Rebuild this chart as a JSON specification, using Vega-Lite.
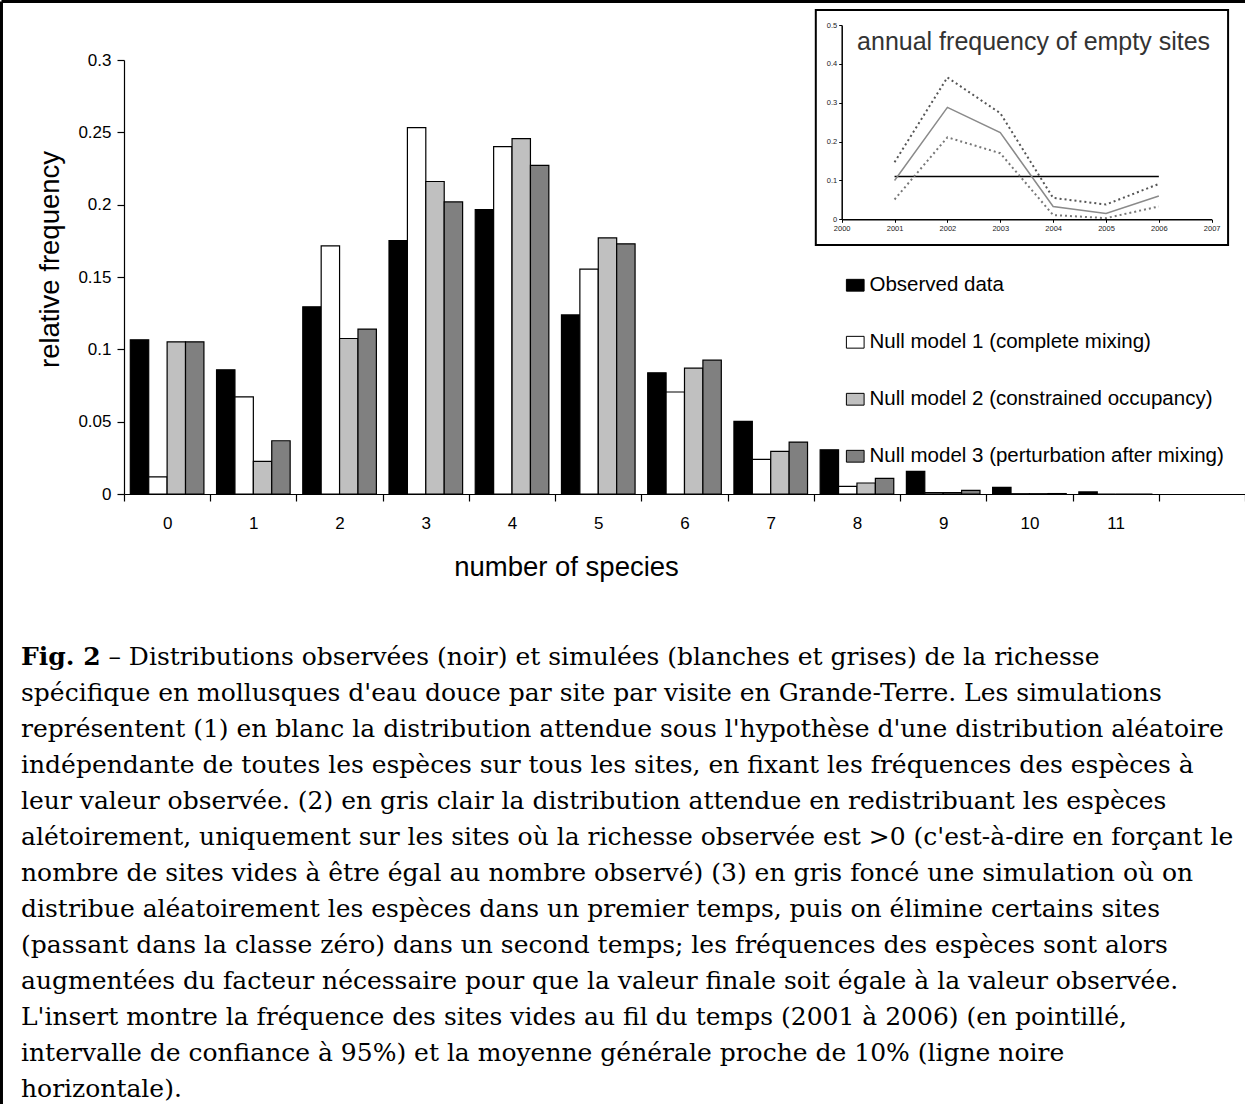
{
  "$schema": "https://vega.github.io/schema/vega-lite/v6.json",
  "autosize": {"type": "none"},
  "width": 1121,
  "height": 434,
  "padding": {"left": 124, "top": 60, "right": 0, "bottom": 610},
  "background": "white",
  "config": {"view": {"stroke": null}, "font": "Liberation Sans"},
  "title": {
    "text": "Fig. 2",
    "subtitle": [
      "\u200b\u00a0\u00a0\u00a0\u00a0\u00a0\u00a0\u00a0\u00a0\u00a0\u00a0\u00a0– Distributions observées (noir) et simulées (blanches et grises) de la richesse",
      "spécifique en mollusques d'eau douce par site par visite en Grande-Terre. Les simulations",
      "représentent (1) en blanc la distribution attendue sous l'hypothèse d'une distribution aléatoire",
      "indépendante de toutes les espèces sur tous les sites, en fixant les fréquences des espèces à",
      "leur valeur observée. (2) en gris clair la distribution attendue en redistribuant les espèces",
      "alétoirement, uniquement sur les sites où la richesse observée est >0 (c'est-à-dire en forçant le",
      "nombre de sites vides à être égal au nombre observé) (3) en gris foncé une simulation où on",
      "distribue aléatoirement les espèces dans un premier temps, puis on élimine certains sites",
      "(passant dans la classe zéro) dans un second temps; les fréquences des espèces sont alors",
      "augmentées du facteur nécessaire pour que la valeur finale soit égale à la valeur observée.",
      "L'insert montre la fréquence des sites vides au fil du temps (2001 à 2006) (en pointillé,",
      "intervalle de confiance à 95%) et la moyenne générale proche de 10% (ligne noire",
      "horizontale)."
    ],
    "orient": "bottom",
    "anchor": "start",
    "frame": "group",
    "dx": -103,
    "offset": -461,
    "font": "DejaVu Serif",
    "fontSize": 25,
    "fontWeight": "bold",
    "color": "black",
    "subtitleFont": "DejaVu Serif",
    "subtitleFontSize": 25,
    "subtitleFontWeight": "normal",
    "subtitleColor": "black",
    "subtitleLineHeight": 36,
    "subtitlePadding": -25
  },
  "datasets": {
    "bars": [
      {"n": "0", "model": "Observed data", "v": 0.1066},
      {"n": "0", "model": "Null model 1 (complete mixing)", "v": 0.0119},
      {"n": "0", "model": "Null model 2 (constrained occupancy)", "v": 0.1052},
      {"n": "0", "model": "Null model 3 (perturbation after mixing)", "v": 0.1052},
      {"n": "1", "model": "Observed data", "v": 0.0859},
      {"n": "1", "model": "Null model 1 (complete mixing)", "v": 0.0672},
      {"n": "1", "model": "Null model 2 (constrained occupancy)", "v": 0.0226},
      {"n": "1", "model": "Null model 3 (perturbation after mixing)", "v": 0.0368},
      {"n": "2", "model": "Observed data", "v": 0.1294},
      {"n": "2", "model": "Null model 1 (complete mixing)", "v": 0.1715},
      {"n": "2", "model": "Null model 2 (constrained occupancy)", "v": 0.1075},
      {"n": "2", "model": "Null model 3 (perturbation after mixing)", "v": 0.114},
      {"n": "3", "model": "Observed data", "v": 0.1752},
      {"n": "3", "model": "Null model 1 (complete mixing)", "v": 0.2533},
      {"n": "3", "model": "Null model 2 (constrained occupancy)", "v": 0.216},
      {"n": "3", "model": "Null model 3 (perturbation after mixing)", "v": 0.2019},
      {"n": "4", "model": "Observed data", "v": 0.1966},
      {"n": "4", "model": "Null model 1 (complete mixing)", "v": 0.2401},
      {"n": "4", "model": "Null model 2 (constrained occupancy)", "v": 0.2457},
      {"n": "4", "model": "Null model 3 (perturbation after mixing)", "v": 0.2272},
      {"n": "5", "model": "Observed data", "v": 0.1238},
      {"n": "5", "model": "Null model 1 (complete mixing)", "v": 0.1554},
      {"n": "5", "model": "Null model 2 (constrained occupancy)", "v": 0.1770},
      {"n": "5", "model": "Null model 3 (perturbation after mixing)", "v": 0.1729},
      {"n": "6", "model": "Observed data", "v": 0.0838},
      {"n": "6", "model": "Null model 1 (complete mixing)", "v": 0.0705},
      {"n": "6", "model": "Null model 2 (constrained occupancy)", "v": 0.087},
      {"n": "6", "model": "Null model 3 (perturbation after mixing)", "v": 0.0925},
      {"n": "7", "model": "Observed data", "v": 0.0502},
      {"n": "7", "model": "Null model 1 (complete mixing)", "v": 0.0239},
      {"n": "7", "model": "Null model 2 (constrained occupancy)", "v": 0.0294},
      {"n": "7", "model": "Null model 3 (perturbation after mixing)", "v": 0.0359},
      {"n": "8", "model": "Observed data", "v": 0.0306},
      {"n": "8", "model": "Null model 1 (complete mixing)", "v": 0.0053},
      {"n": "8", "model": "Null model 2 (constrained occupancy)", "v": 0.0076},
      {"n": "8", "model": "Null model 3 (perturbation after mixing)", "v": 0.0108},
      {"n": "9", "model": "Observed data", "v": 0.0156},
      {"n": "9", "model": "Null model 1 (complete mixing)", "v": 0.001},
      {"n": "9", "model": "Null model 2 (constrained occupancy)", "v": 0.001},
      {"n": "9", "model": "Null model 3 (perturbation after mixing)", "v": 0.0025},
      {"n": "10", "model": "Observed data", "v": 0.0046},
      {"n": "10", "model": "Null model 1 (complete mixing)", "v": 0.0002},
      {"n": "10", "model": "Null model 2 (constrained occupancy)", "v": 0.0002},
      {"n": "10", "model": "Null model 3 (perturbation after mixing)", "v": 0.0003},
      {"n": "11", "model": "Observed data", "v": 0.0014},
      {"n": "11", "model": "Null model 1 (complete mixing)", "v": 0},
      {"n": "11", "model": "Null model 2 (constrained occupancy)", "v": 0},
      {"n": "11", "model": "Null model 3 (perturbation after mixing)", "v": 0}
    ],
    "inset": [
      {"s": "mean", "year": 2001, "f": 0.1},
      {"s": "mean", "year": 2002, "f": 0.288},
      {"s": "mean", "year": 2003, "f": 0.223},
      {"s": "mean", "year": 2004, "f": 0.033},
      {"s": "mean", "year": 2005, "f": 0.015},
      {"s": "mean", "year": 2006, "f": 0.06},
      {"s": "upper", "year": 2001, "f": 0.147},
      {"s": "upper", "year": 2002, "f": 0.365},
      {"s": "upper", "year": 2003, "f": 0.273},
      {"s": "upper", "year": 2004, "f": 0.055},
      {"s": "upper", "year": 2005, "f": 0.038},
      {"s": "upper", "year": 2006, "f": 0.091},
      {"s": "lower", "year": 2001, "f": 0.051},
      {"s": "lower", "year": 2002, "f": 0.211},
      {"s": "lower", "year": 2003, "f": 0.17},
      {"s": "lower", "year": 2004, "f": 0.011},
      {"s": "lower", "year": 2005, "f": 0.003},
      {"s": "lower", "year": 2006, "f": 0.033},
      {"s": "overall", "year": 2001, "f": 0.11},
      {"s": "overall", "year": 2006, "f": 0.11}
    ]
  },
  "layer": [
    {
      "data": {"name": "bars"},
      "mark": {"type": "bar", "stroke": "black", "strokeWidth": 1.2},
      "encoding": {
        "x": {
          "field": "n", "type": "nominal",
          "scale": {"domain": ["0","1","2","3","4","5","6","7","8","9","10","11","12"], "paddingInner": 0, "paddingOuter": 0},
          "axis": {
            "title": "number of species",
            "labelExpr": "datum.value == '12' ? '' : datum.value",
            "tickBand": "extent",
            "labelAngle": 0,
            "domainColor": "black", "domainWidth": 1.2,
            "tickColor": "black", "tickSize": 7, "tickWidth": 1.2,
            "labelFont": "Liberation Sans", "labelFontSize": 17, "labelColor": "black", "labelPadding": 14,
            "titleFont": "Liberation Sans", "titleFontSize": 27.5, "titleFontWeight": "normal", "titleColor": "black",
            "titleX": 442, "titlePadding": 22,
            "grid": false
          }
        },
        "xOffset": {
          "field": "model", "type": "nominal",
          "scale": {"domain": ["Observed data", "Null model 1 (complete mixing)", "Null model 2 (constrained occupancy)", "Null model 3 (perturbation after mixing)"], "paddingInner": 0, "paddingOuter": 0.343}
        },
        "y": {
          "field": "v", "type": "quantitative",
          "scale": {"domain": [0, 0.3], "nice": false},
          "axis": {
            "title": "relative frequency",
            "values": [0, 0.05, 0.1, 0.15, 0.2, 0.25, 0.3],
            "format": ".2~f",
            "domainColor": "black", "domainWidth": 1.2,
            "tickColor": "black", "tickSize": 7, "tickWidth": 1.2,
            "labelFont": "Liberation Sans", "labelFontSize": 17, "labelColor": "black", "labelPadding": 6,
            "titleFont": "Liberation Sans", "titleFontSize": 27.5, "titleFontWeight": "normal", "titleColor": "black",
            "titleY": 199, "titlePadding": 13,
            "grid": false
          }
        },
        "fill": {
          "field": "model", "type": "nominal",
          "scale": {"domain": ["Observed data", "Null model 1 (complete mixing)", "Null model 2 (constrained occupancy)", "Null model 3 (perturbation after mixing)"], "range": ["#000000", "#ffffff", "#c0c0c0", "#808080"]},
          "legend": {
            "title": null, "orient": "none", "legendX": 721, "legendY": 215,
            "symbolType": "M-1,-0.667H1V0.667H-1Z", "symbolSize": 313,
            "symbolStrokeColor": "black", "symbolStrokeWidth": 1, "symbolOpacity": 1,
            "labelFont": "Liberation Sans", "labelFontSize": 20.5, "labelColor": "black",
            "labelLimit": 600, "labelOffset": 4, "rowPadding": 36, "padding": 0
          }
        }
      }
    },
    {
      "layer": [
        {
          "data": {"values": [{}]},
          "mark": {"type": "rect", "fill": "white", "stroke": "black", "strokeWidth": 2},
          "encoding": {
            "x": {"datum": 1999.51, "type": "quantitative"},
            "x2": {"datum": 2007.31},
            "y": {"datum": -0.066, "type": "quantitative"},
            "y2": {"datum": 0.5386}
          }
        },
        {
          "data": {"values": [{}]},
          "mark": {"type": "rule", "stroke": "black", "strokeWidth": 3},
          "encoding": {
            "x": {"datum": 1984.104, "type": "quantitative"},
            "x2": {"datum": 2007.63},
            "y": {"datum": 0.5605, "type": "quantitative"}
          }
        },
        {
          "data": {"values": [{}]},
          "mark": {"type": "rule", "stroke": "black", "strokeWidth": 3},
          "encoding": {
            "x": {"datum": 1984.104, "type": "quantitative"},
            "y": {"datum": 0.5605, "type": "quantitative"},
            "y2": {"datum": -2.2767}
          }
        },
        {
          "data": {"name": "inset"},
          "transform": [{"filter": "datum.s == 'overall'"}],
          "mark": {"type": "line", "color": "black", "strokeWidth": 1.5},
          "encoding": {
            "x": {
              "field": "year", "type": "quantitative",
              "scale": {"domain": [2000, 2007], "range": [717.7, 1087.7], "nice": false, "zero": false},
              "axis": {
                "orient": "bottom", "offset": -274.7, "title": null, "zindex": 2,
                "values": [2000, 2001, 2002, 2003, 2004, 2005, 2006, 2007], "format": "d",
                "labelFont": "Liberation Sans", "labelFontSize": 7.5, "labelColor": "#222", "labelPadding": 2,
                "labelFlush": false, "labelOverlap": false,
                "domainColor": "black", "domainWidth": 1.5, "tickColor": "black", "tickSize": 3, "grid": false
              }
            },
            "y": {
              "field": "f", "type": "quantitative",
              "scale": {"domain": [0, 0.5], "range": [159.3, -35], "nice": false, "zero": false},
              "axis": {
                "orient": "left", "offset": -717.7, "title": null, "zindex": 2,
                "values": [0, 0.1, 0.2, 0.3, 0.4, 0.5], "format": "~g",
                "labelFont": "Liberation Sans", "labelFontSize": 7.5, "labelColor": "#222", "labelPadding": 2,
                "labelFlush": false, "labelOverlap": false,
                "domainColor": "black", "domainWidth": 1.5, "tickColor": "black", "tickSize": 3, "grid": false
              }
            }
          }
        },
        {
          "data": {"name": "inset"},
          "transform": [{"filter": "datum.s == 'upper'"}],
          "mark": {"type": "line", "color": "#555555", "strokeWidth": 2, "strokeDash": [2, 3]},
          "encoding": {
            "x": {"field": "year", "type": "quantitative"},
            "y": {"field": "f", "type": "quantitative"}
          }
        },
        {
          "data": {"name": "inset"},
          "transform": [{"filter": "datum.s == 'lower'"}],
          "mark": {"type": "line", "color": "#777777", "strokeWidth": 2, "strokeDash": [2, 3]},
          "encoding": {
            "x": {"field": "year", "type": "quantitative"},
            "y": {"field": "f", "type": "quantitative"}
          }
        },
        {
          "data": {"name": "inset"},
          "transform": [{"filter": "datum.s == 'mean'"}],
          "mark": {"type": "line", "color": "#8a8a8a", "strokeWidth": 1.5},
          "encoding": {
            "x": {"field": "year", "type": "quantitative"},
            "y": {"field": "f", "type": "quantitative"}
          }
        },
        {
          "data": {"values": [{}]},
          "mark": {"type": "text", "font": "Liberation Sans", "fontSize": 25, "color": "#333333", "align": "center", "baseline": "middle"},
          "encoding": {
            "x": {"datum": 2003.63, "type": "quantitative"},
            "y": {"datum": 0.456, "type": "quantitative"},
            "text": {"value": "annual frequency of empty sites"}
          }
        }
      ]
    }
  ],
  "resolve": {
    "scale": {"x": "independent", "y": "independent", "fill": "independent"},
    "axis": {"x": "independent", "y": "independent"}
  }
}
